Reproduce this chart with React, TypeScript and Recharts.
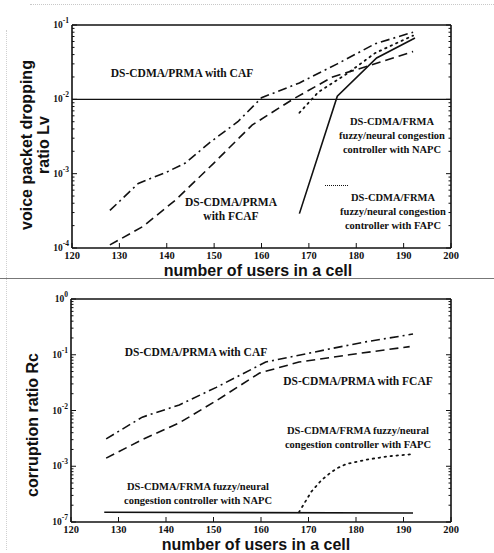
import React from 'react';
import { LineChart, Line, XAxis, YAxis, ReferenceLine } from 'recharts';

// x axis: number of users in a cell
const userTicks = [120, 130, 140, 150, 160, 170, 180, 190, 200];
const minorSteps = [2, 3, 4, 5, 6, 7, 8, 9];

// top panel: voice packet dropping ratio Lv
const lvDecades = [1e-4, 1e-3, 1e-2, 1e-1];
const lvDecadeLabels = ['-4', '-3', '-2', '-1'];

const lvCafUsers = [128, 134, 140, 144, 149, 155, 160, 168, 176, 184, 192];
const lvCafRatio = [3.2e-4, 7.4e-4, 1.05e-3, 1.4e-3, 2.6e-3, 5.0e-3, 1.05e-2, 1.66e-2, 3.0e-2, 5.6e-2, 8.0e-2];

const lvFcafUsers = [128, 135, 142, 150, 158, 166.6, 175, 182, 192];
const lvFcafRatio = [1.1e-4, 1.95e-4, 4.5e-4, 1.4e-3, 4.5e-3, 1.0e-2, 2.0e-2, 2.75e-2, 4.4e-2];

const lvNapcUsers = [168, 176, 184.3, 192.4];
const lvNapcRatio = [2.9e-4, 1.1e-2, 3.6e-2, 6.7e-2];

const lvFapcUsers = [168, 172, 178, 184, 192];
const lvFapcRatio = [6.6e-3, 1.25e-2, 2.2e-2, 4.2e-2, 7.2e-2];

// bottom panel: corruption ratio Rc
const rcDecades = [1e-4, 1e-3, 1e-2, 1e-1, 1];
const rcDecadeLabels = ['-7', '-3', '-2', '-1', '0'];

const rcCafUsers = [127.4, 135, 142.8, 150.6, 161, 175, 182, 192];
const rcCafRatio = [3.1e-3, 7.6e-3, 1.26e-2, 2.6e-2, 7.4e-2, 0.13, 0.17, 0.235];

const rcFcafUsers = [127.4, 135, 142.8, 150.6, 159.7, 168, 178.6, 191.3];
const rcFcafRatio = [1.4e-3, 3.0e-3, 6.0e-3, 1.5e-2, 4.7e-2, 7.4e-2, 0.1, 0.14];

const rcFapcUsers = [168, 170.6, 172.7, 174.5, 176, 178, 182, 186.5, 192];
const rcFapcRatio = [1.5e-4, 3.5e-4, 5.6e-4, 7.5e-4, 9.2e-4, 1.1e-3, 1.3e-3, 1.5e-3, 1.65e-3];

const rcNapcUsers = [127, 192];
const rcNapcRatio = [1.5e-4, 1.45e-4];

const zip = (xs: number[], ys: number[]) => xs.map((users, i) => ({ users, value: ys[i] }));

const INK = '#111';
const SERIF = '"Liberation Serif", "Times New Roman", serif';
const SANS = '"Liberation Sans", Arial, sans-serif';

const styles: Record<string, string | undefined> = {
  solid: undefined,
  dashed: '9 5',
  dashdot: '9 4 2 4',
  dotted: '1.5 4.5',
};

type Series = { users: number[]; ratio: number[]; style: keyof typeof styles };

const logTicks = (decades: number[]) =>
  decades.flatMap((d, i) => (i === decades.length - 1 ? [d] : [d, ...minorSteps.map((m) => d * m)]));

function makeYTick(decades: number[], labels: string[], side: 'left' | 'right') {
  return (props: any) => {
    const { x, y, payload } = props;
    const idx = decades.indexOf(payload.value);
    const len = idx >= 0 ? 5 : 2.5;
    const dir = side === 'left' ? 1 : -1;
    return (
      <g>
        <line x1={x} x2={x + dir * len} y1={y} y2={y} stroke={INK} strokeWidth={1} />
        {side === 'left' && idx >= 0 && (
          <text x={x - 3} y={y + 3} textAnchor="end" fill={INK} fontFamily={SERIF} fontWeight="bold" fontSize={9.5}>
            <tspan>10</tspan>
            <tspan dy={-5} fontSize={7.5}>{labels[idx]}</tspan>
          </text>
        )}
      </g>
    );
  };
}

const XTickBottom = (props: any) => {
  const { x, y, payload } = props;
  return (
    <g>
      <line x1={x} x2={x} y1={y} y2={y - 5} stroke={INK} strokeWidth={1} />
      <text x={x} y={y + 11} textAnchor="middle" fill={INK} fontFamily={SERIF} fontWeight="bold" fontSize={10.5}>
        {payload.value}
      </text>
    </g>
  );
};

const XTickTop = (props: any) => {
  const { x, y } = props;
  return <line x1={x} x2={x} y1={y} y2={y + 5} stroke={INK} strokeWidth={1} />;
};

type PanelProps = {
  height: number;
  margin: { top: number; right: number; bottom: number; left: number };
  decades: number[];
  labels: string[];
  series: Series[];
  refLine?: number;
};

function Panel({ height, margin, decades, labels, series, refLine }: PanelProps) {
  const ticks = logTicks(decades);
  const domain = [decades[0], decades[decades.length - 1]];
  return (
    <LineChart width={494} height={height} margin={margin}>
      <XAxis
        xAxisId="b"
        dataKey="users"
        type="number"
        domain={[120, 200]}
        ticks={userTicks}
        interval={0}
        height={20}
        tickSize={0}
        tickMargin={0}
        tickLine={false}
        axisLine={{ stroke: INK, strokeWidth: 1.6 }}
        tick={XTickBottom}
        allowDataOverflow
      />
      <XAxis
        xAxisId="t"
        orientation="top"
        type="number"
        domain={[120, 200]}
        ticks={userTicks}
        interval={0}
        height={5}
        tickSize={0}
        tickMargin={0}
        tickLine={false}
        axisLine={{ stroke: INK, strokeWidth: 1.6 }}
        tick={XTickTop}
        allowDataOverflow
      />
      <YAxis
        yAxisId="l"
        type="number"
        scale="log"
        domain={domain}
        ticks={ticks}
        interval={0}
        width={30}
        tickSize={0}
        tickMargin={0}
        tickLine={false}
        axisLine={{ stroke: INK, strokeWidth: 1.6 }}
        tick={makeYTick(decades, labels, 'left')}
        allowDataOverflow
      />
      <YAxis
        yAxisId="r"
        orientation="right"
        type="number"
        scale="log"
        domain={domain}
        ticks={ticks}
        interval={0}
        width={10}
        tickSize={0}
        tickMargin={0}
        tickLine={false}
        axisLine={{ stroke: INK, strokeWidth: 1.6 }}
        tick={makeYTick(decades, labels, 'right')}
        allowDataOverflow
      />
      {refLine !== undefined && (
        <ReferenceLine xAxisId="b" yAxisId="l" y={refLine} stroke={INK} strokeWidth={1.2} />
      )}
      {series.map((s, i) => (
        <Line
          key={i}
          xAxisId="b"
          yAxisId="l"
          data={zip(s.users, s.ratio)}
          dataKey="value"
          type="linear"
          stroke={INK}
          strokeWidth={s.style === 'dotted' ? 1.8 : 1.6}
          strokeDasharray={styles[s.style]}
          strokeLinecap={s.style === 'dotted' ? 'round' : 'butt'}
          dot={false}
          activeDot={false}
          isAnimationActive={false}
        />
      ))}
    </LineChart>
  );
}

const Note = ({ x, y, lines, size = 11.5 }: { x: number; y: number; lines: string[]; size?: number }) => (
  <div
    style={{
      position: 'absolute',
      left: x,
      top: y,
      transform: 'translateX(-50%)',
      fontFamily: SERIF,
      fontWeight: 'bold',
      fontSize: size,
      lineHeight: '14px',
      textAlign: 'center',
      whiteSpace: 'nowrap',
      color: INK,
    }}
  >
    {lines.map((l, i) => (
      <div key={i}>{l}</div>
    ))}
  </div>
);

const AxisTitle = ({ x, y, text }: { x: number; y: number; text: string }) => (
  <div
    style={{
      position: 'absolute',
      left: x,
      top: y,
      transform: 'translate(-50%, -50%)',
      fontFamily: SANS,
      fontWeight: 'bold',
      fontSize: 16,
      lineHeight: '16px',
      whiteSpace: 'nowrap',
      color: INK,
    }}
  >
    {text}
  </div>
);

const RotatedTitle = ({ x, y, lines, size }: { x: number; y: number; lines: string[]; size: number }) => (
  <div
    style={{
      position: 'absolute',
      left: x,
      top: y,
      transform: 'translate(-50%, -50%) rotate(-90deg)',
      fontFamily: SANS,
      fontWeight: 'bold',
      fontSize: size,
      lineHeight: `${size + 1}px`,
      textAlign: 'center',
      whiteSpace: 'nowrap',
      color: INK,
    }}
  >
    {lines.map((l, i) => (
      <div key={i}>{l}</div>
    ))}
  </div>
);

export default function App() {
  const topSeries: Series[] = [
    { users: lvCafUsers, ratio: lvCafRatio, style: 'dashdot' },
    { users: lvFcafUsers, ratio: lvFcafRatio, style: 'dashed' },
    { users: lvFapcUsers, ratio: lvFapcRatio, style: 'dotted' },
    { users: lvNapcUsers, ratio: lvNapcRatio, style: 'solid' },
  ];
  const bottomSeries: Series[] = [
    { users: rcCafUsers, ratio: rcCafRatio, style: 'dashdot' },
    { users: rcFcafUsers, ratio: rcFcafRatio, style: 'dashed' },
    { users: rcFapcUsers, ratio: rcFapcRatio, style: 'dotted' },
    { users: rcNapcUsers, ratio: rcNapcRatio, style: 'solid' },
  ];

  return (
    <div style={{ position: 'absolute', left: 0, top: 0, width: 494, height: 553, background: '#fff', overflow: 'hidden' }}>
      {/* scan edge noise */}
      <div style={{ position: 'absolute', left: 30, top: 4, width: 464, borderTop: '1px dotted #c8c8c8' }} />
      <div style={{ position: 'absolute', left: 6, top: 30, height: 520, borderLeft: '1px dotted #d0d0d0' }} />
      <div style={{ position: 'absolute', left: 0, top: 278, width: 494, borderTop: '1px solid #777' }} />

      <div style={{ position: 'absolute', left: 0, top: 0 }}>
        <Panel
          height={280}
          margin={{ top: 20, right: 33, bottom: 12, left: 42 }}
          decades={lvDecades}
          labels={lvDecadeLabels}
          series={topSeries}
          refLine={1e-2}
        />
      </div>
      <div style={{ position: 'absolute', left: 0, top: 280 }}>
        <Panel
          height={273}
          margin={{ top: 14, right: 33, bottom: 11, left: 41 }}
          decades={rcDecades}
          labels={rcDecadeLabels}
          series={bottomSeries}
        />
      </div>

      {/* top panel annotations */}
      <Note x={182} y={66} lines={['DS-CDMA/PRMA with CAF']} />
      <Note x={231} y={195} lines={['DS-CDMA/PRMA', 'with FCAF']} />
      <Note x={392} y={115} lines={['DS-CDMA/FRMA', 'fuzzy/neural congestion', 'controller with NAPC']} size={10.5} />
      <div style={{ position: 'absolute', left: 325, top: 185, width: 23, borderTop: '1.5px dotted #111' }} />
      <Note x={393} y={191} lines={['DS-CDMA/FRMA', 'fuzzy/neural congestion', 'controller with FAPC']} size={10.5} />

      {/* bottom panel annotations */}
      <Note x={196} y={345} lines={['DS-CDMA/PRMA with CAF']} />
      <Note x={358} y={374} lines={['DS-CDMA/PRMA with FCAF']} />
      <Note x={358} y={424} lines={['DS-CDMA/FRMA fuzzy/neural', 'congestion controller with FAPC']} size={10.5} />
      <Note x={198} y={480} lines={['DS-CDMA/FRMA fuzzy/neural', 'congestion controller with NAPC']} size={10.5} />

      <AxisTitle x={258} y={271} text="number of users in a cell" />
      <AxisTitle x={256} y={545} text="number of users in a cell" />
      <RotatedTitle x={35} y={145} lines={['voice packet dropping', 'ratio Lv']} size={16} />
      <RotatedTitle x={32} y={425} lines={['corruption ratio Rc']} size={16} />
    </div>
  );
}
